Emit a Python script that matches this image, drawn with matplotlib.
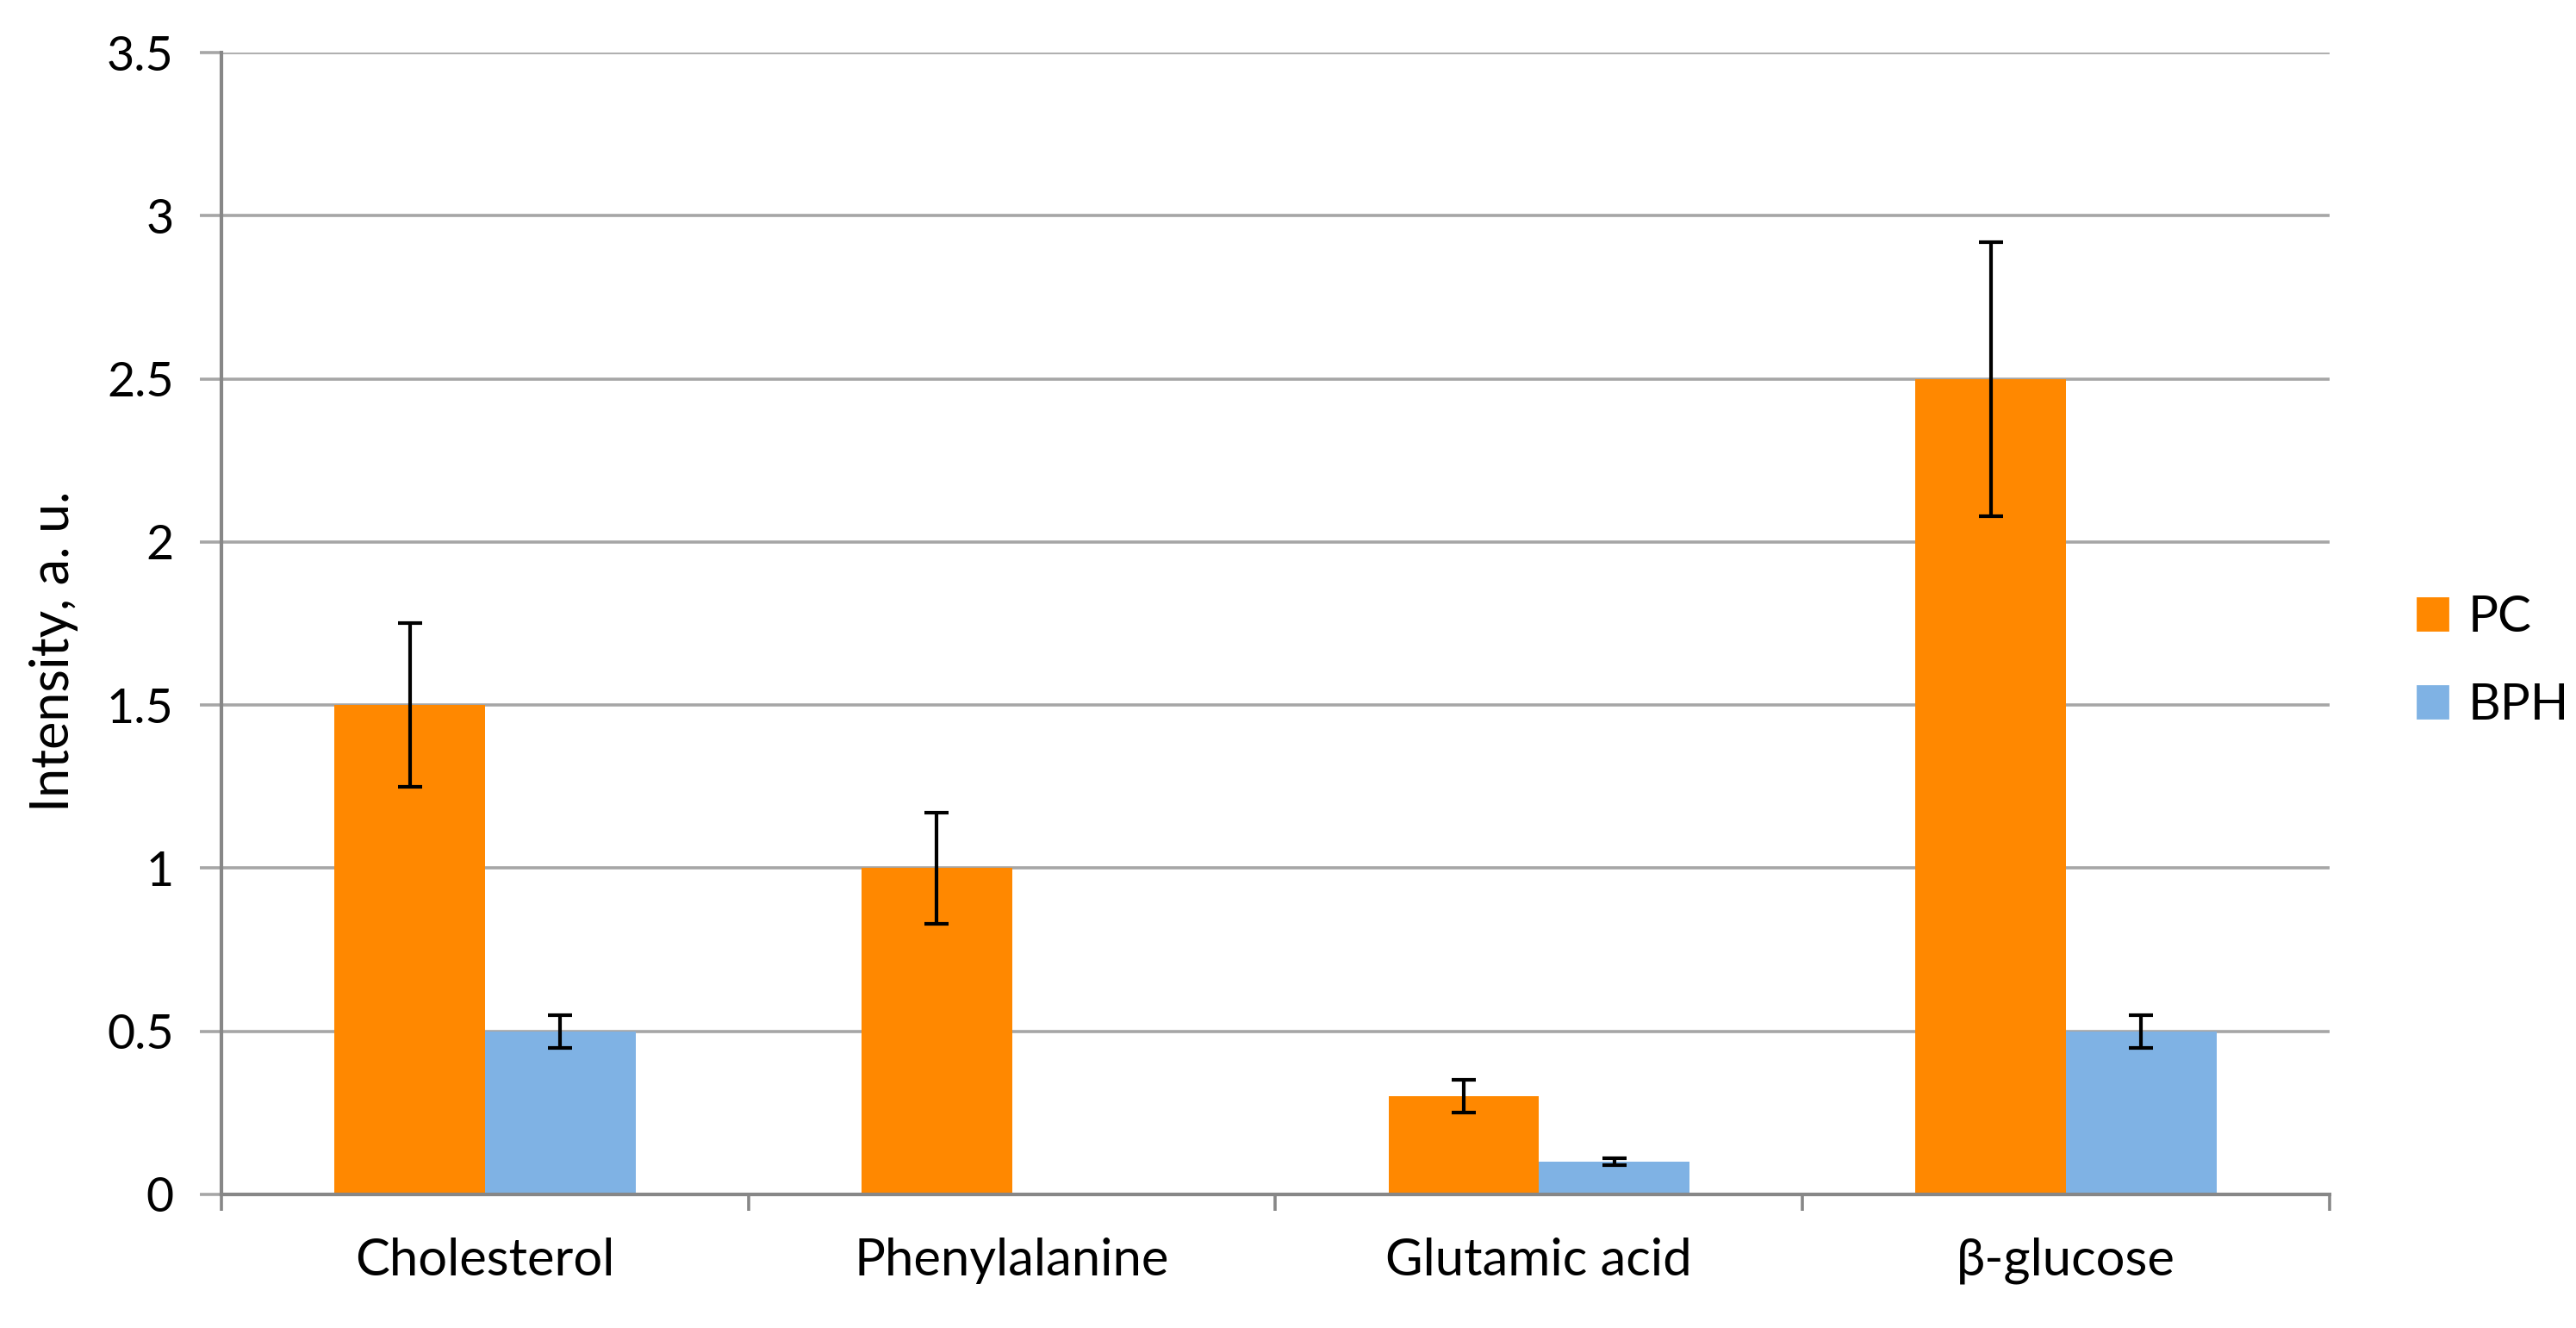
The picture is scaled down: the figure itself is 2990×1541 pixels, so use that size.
import matplotlib

matplotlib.use("Agg")
import matplotlib.pyplot as plt
import numpy as np
from matplotlib.patches import Patch

categories = ["Cholesterol", "Phenylalanine", "Glutamic acid", "β-glucose"]
pc_values = [1.5, 1.0, 0.3, 2.5]
pc_errors = [0.25, 0.17, 0.05, 0.42]
bph_values = [0.5, 0.0, 0.1, 0.5]
bph_errors = [0.05, 0.0, 0.01, 0.05]
series_labels = ["PC", "BPH"]

ORANGE = "#ff8800"
BLUE = "#7fb2e4"
GRID = "#a6a6a6"
AXIS = "#878787"

plt.rcParams["font.family"] = ["Lato", "DejaVu Sans"]

fig = plt.figure(figsize=(14.95, 7.705), dpi=200)
ax = fig.add_axes([0.086, 0.1006, 0.9043 - 0.086, 0.9604 - 0.1006])

centers = np.arange(len(categories)) + 0.5
bar_w = 1 / 3.5
err_style = dict(ecolor="black", elinewidth=1.5, capsize=5, capthick=1.5)

ax.bar(centers - bar_w / 2, pc_values, bar_w, color=ORANGE, zorder=2)
ax.bar(centers + bar_w / 2, bph_values, bar_w, color=BLUE, zorder=2)
pc_mask = [e > 0 for e in pc_errors]
bph_mask = [e > 0 for e in bph_errors]
ax.errorbar((centers - bar_w / 2)[pc_mask], np.array(pc_values)[pc_mask],
            yerr=np.array(pc_errors)[pc_mask], fmt="none", zorder=3, **err_style)
ax.errorbar((centers + bar_w / 2)[bph_mask], np.array(bph_values)[bph_mask],
            yerr=np.array(bph_errors)[bph_mask], fmt="none", zorder=3, **err_style)

ax.set_xlim(0, len(categories))
ax.set_ylim(0, 3.5)
ax.set_yticks(np.arange(0, 3.51, 0.5))
ax.set_yticklabels(["0", "0.5", "1", "1.5", "2", "2.5", "3", "3.5"])
ax.yaxis.grid(True, color=GRID, linewidth=1.3, zorder=0)
ax.set_axisbelow(True)

ax.set_xticks(np.arange(len(categories) + 1))
ax.set_xticklabels([])
ax.set_xticks(centers, minor=True)
ax.set_xticklabels(categories, minor=True)
ax.tick_params(axis="x", which="major", length=7, width=1.3, color=AXIS)
ax.tick_params(axis="x", which="minor", length=0, pad=18, labelsize=21.5)
ax.tick_params(axis="y", length=9, width=1.3, color=GRID, pad=11, labelsize=20)

for side in ["top", "right"]:
    ax.spines[side].set_visible(False)
for side in ["left", "bottom"]:
    ax.spines[side].set_color(AXIS)
    ax.spines[side].set_linewidth(1.5)

ax.set_ylabel("Intensity, a. u.", fontsize=22)
ax.yaxis.set_label_coords(-0.068, 0.476)

handles = [Patch(color=ORANGE), Patch(color=BLUE)]
fig.legend(handles, series_labels, loc="center left", bbox_to_anchor=(0.9385, 0.502),
           frameon=False, fontsize=21, handlelength=0.6, handleheight=0.6,
           handletextpad=0.4, labelspacing=0.85, borderpad=0, borderaxespad=0)

fig.savefig("out.png", dpi=200)
